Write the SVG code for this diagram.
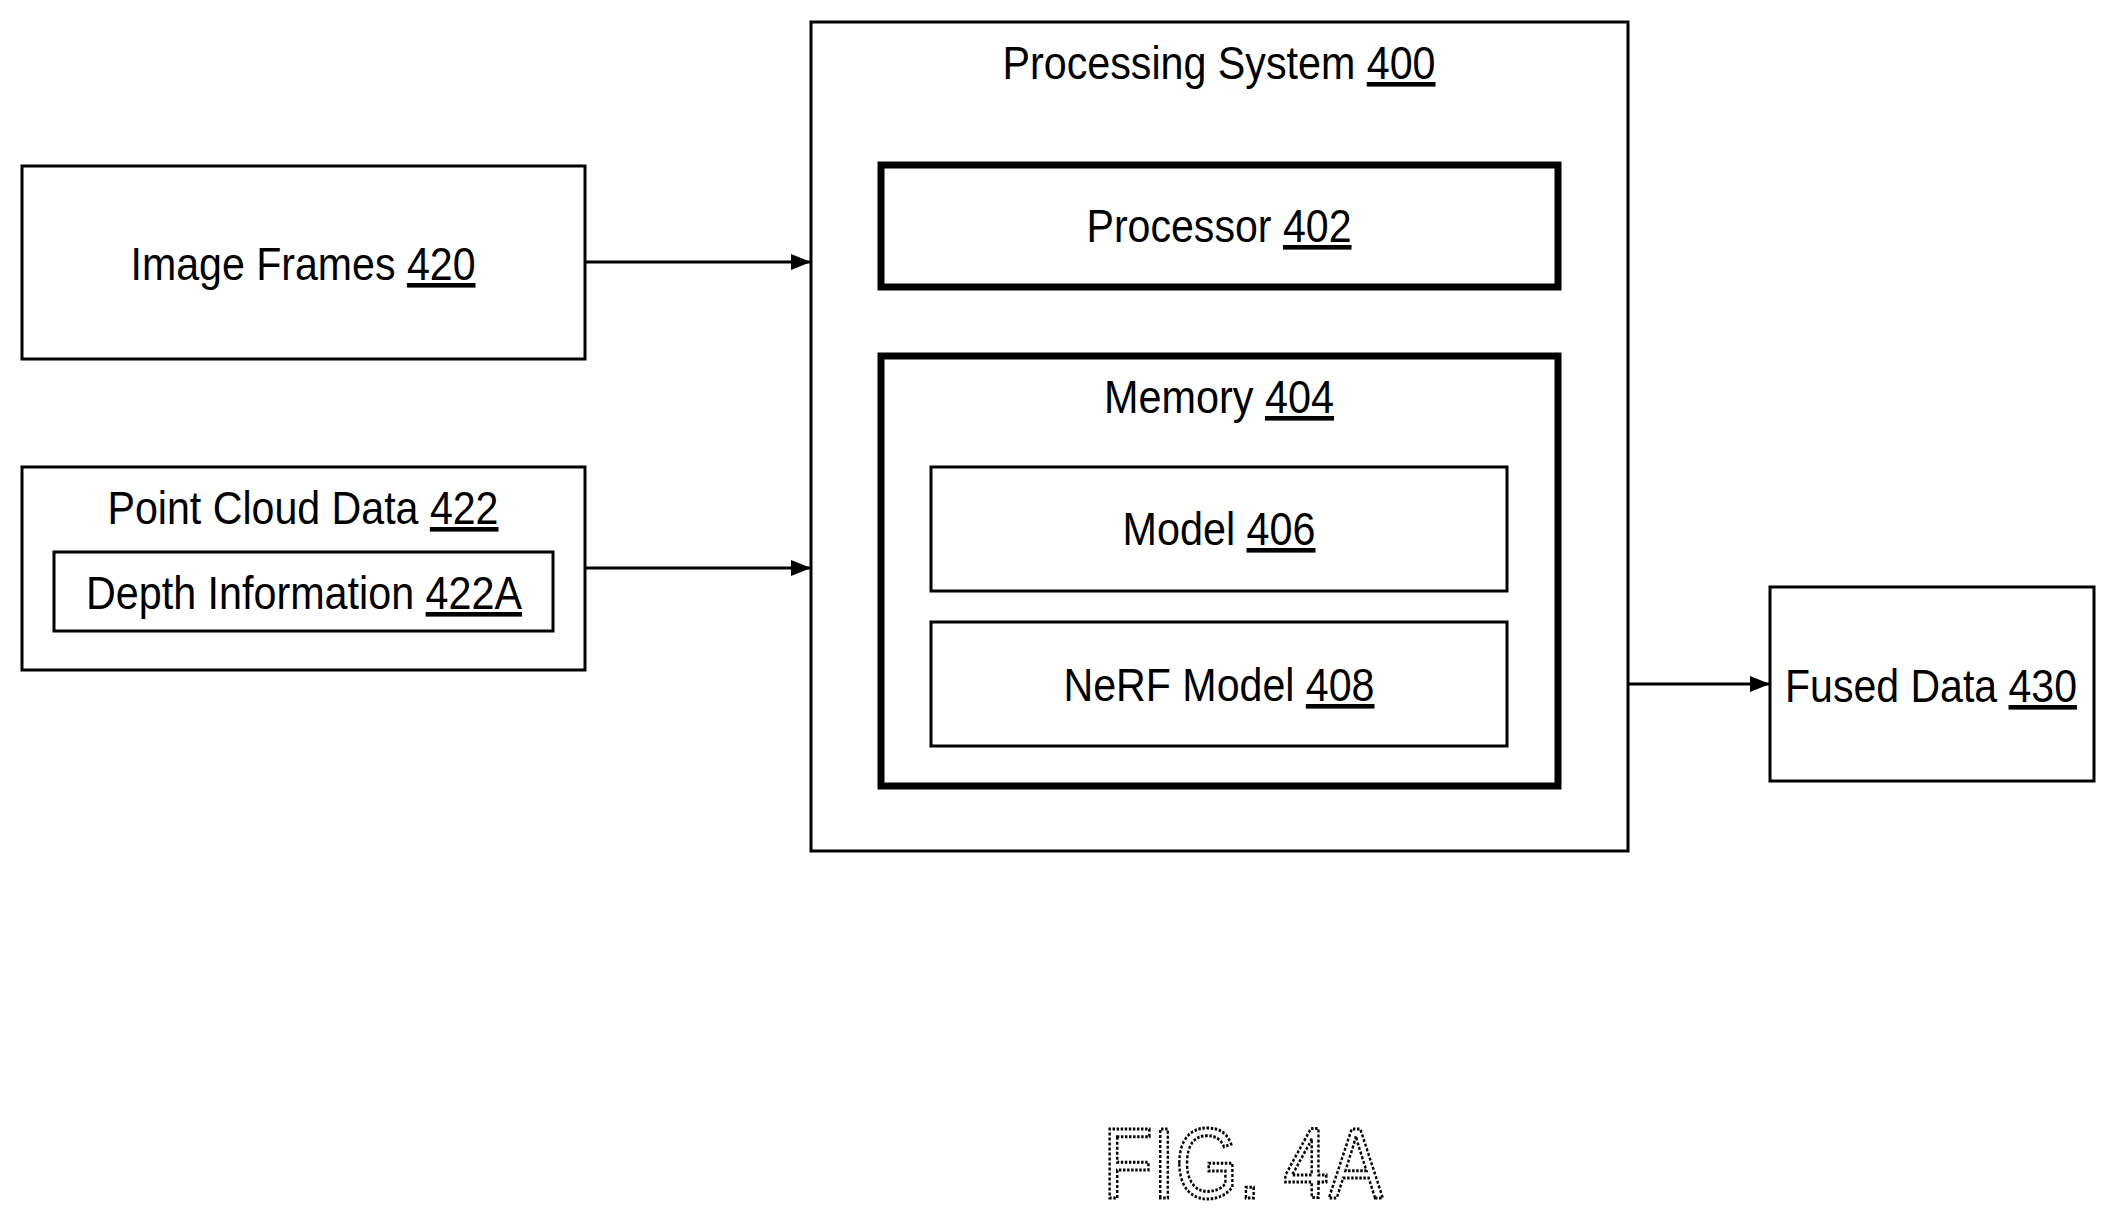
<svg xmlns="http://www.w3.org/2000/svg" width="2105" height="1214" viewBox="0 0 2105 1214">
<style>
.b{fill:none;stroke:#000;stroke-width:3}
.t{fill:none;stroke:#000;stroke-width:7}
text{font-family:"Liberation Sans",Arial,sans-serif;font-size:46px;fill:#000;text-anchor:middle}
.u{text-decoration:underline}
.c{stroke:#000;stroke-width:3;fill:none;marker-end:url(#a)}
</style>
<defs><marker id="a" viewBox="0 0 10 10" refX="10" refY="5" markerWidth="8" markerHeight="8" markerUnits="userSpaceOnUse" orient="auto"><path d="M0,0L10,5L0,10z" fill="#000"/></marker>
<marker id="a2" viewBox="0 0 10 10" refX="10" refY="5" markerWidth="24" markerHeight="20" markerUnits="userSpaceOnUse" orient="auto"><path d="M0,1L10,5L0,9z" fill="#000"/></marker></defs>
<rect width="2105" height="1214" fill="#fff"/>
<g id="ps"><rect class="b" x="811" y="22" width="817" height="829"/><text x="1219" y="79" textLength="433" lengthAdjust="spacingAndGlyphs">Processing System <tspan class="u">400</tspan></text></g>
<g id="proc"><rect class="t" x="881" y="165" width="677" height="122"/><text x="1219" y="242" textLength="265" lengthAdjust="spacingAndGlyphs">Processor <tspan class="u">402</tspan></text></g>
<g id="mem"><rect class="t" x="881" y="356" width="677" height="430"/><text x="1219" y="413" textLength="230" lengthAdjust="spacingAndGlyphs">Memory <tspan class="u">404</tspan></text></g>
<g id="model"><rect class="b" x="931" y="467" width="576" height="124"/><text x="1219" y="545" textLength="193" lengthAdjust="spacingAndGlyphs">Model <tspan class="u">406</tspan></text></g>
<g id="nerf"><rect class="b" x="931" y="622" width="576" height="124"/><text x="1219" y="701" textLength="311" lengthAdjust="spacingAndGlyphs">NeRF Model <tspan class="u">408</tspan></text></g>
<g id="img"><rect class="b" x="22" y="166" width="563" height="193"/><text x="303" y="280" textLength="345" lengthAdjust="spacingAndGlyphs">Image Frames <tspan class="u">420</tspan></text></g>
<g id="pc"><rect class="b" x="22" y="467" width="563" height="203"/><text x="303" y="524" textLength="391" lengthAdjust="spacingAndGlyphs">Point Cloud Data <tspan class="u">422</tspan></text></g>
<g id="depth"><rect class="b" x="54" y="552" width="499" height="79"/><text x="304" y="609" textLength="436" lengthAdjust="spacingAndGlyphs">Depth Information <tspan class="u">422A</tspan></text></g>
<g id="fused"><rect class="b" x="1770" y="587" width="324" height="194"/><text x="1931" y="702" textLength="292" lengthAdjust="spacingAndGlyphs">Fused Data <tspan class="u">430</tspan></text></g>
<g id="connectors">
<path d="M585,262H811" stroke="#000" stroke-width="3" marker-end="url(#a2)"/>
<path d="M585,568H811" stroke="#000" stroke-width="3" marker-end="url(#a2)"/>
<path d="M1628,684H1770" stroke="#000" stroke-width="3" marker-end="url(#a2)"/>
</g>
<text x="1243" y="1198" style="font-size:100px;fill:none;stroke:#000;stroke-width:3;stroke-dasharray:3 2" textLength="280" lengthAdjust="spacingAndGlyphs">FIG. 4A</text>
</svg>
